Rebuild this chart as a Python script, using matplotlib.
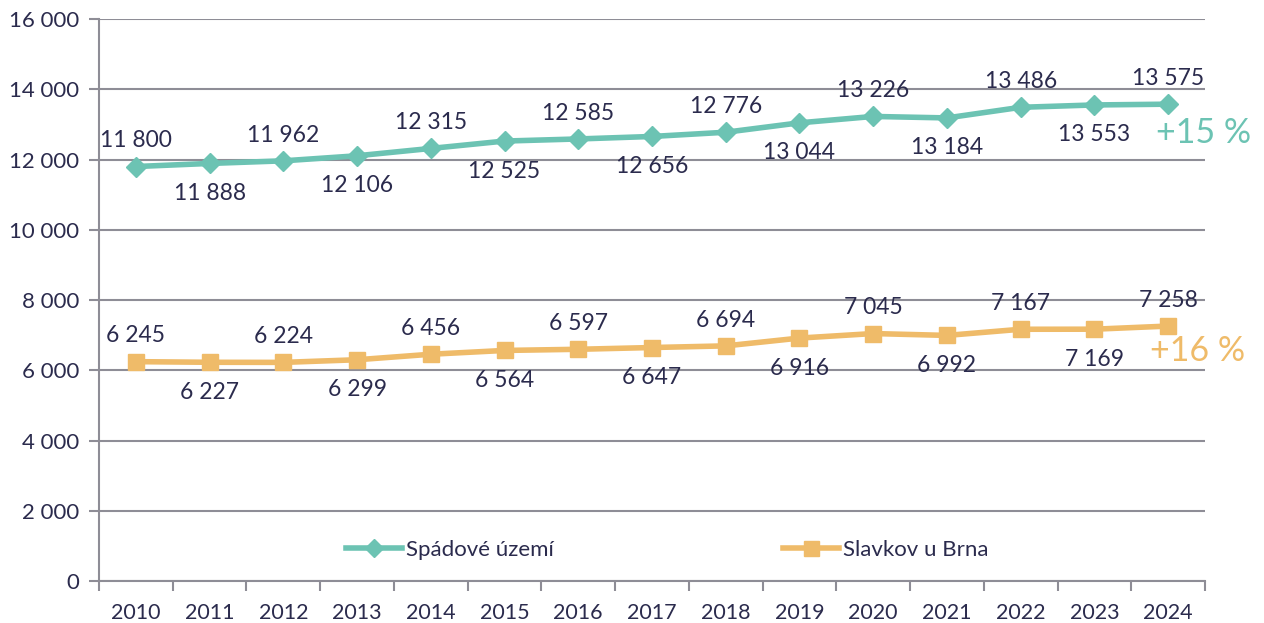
import matplotlib
matplotlib.use("Agg")
import matplotlib.pyplot as plt
import numpy as np

years = ["2010", "2011", "2012", "2013", "2014", "2015", "2016", "2017",
         "2018", "2019", "2020", "2021", "2022", "2023", "2024"]
spadove = [11800, 11888, 11962, 12106, 12315, 12525, 12585, 12656,
           12776, 13044, 13226, 13184, 13486, 13553, 13575]
slavkov = [6245, 6227, 6224, 6299, 6456, 6564, 6597, 6647,
           6694, 6916, 7045, 6992, 7167, 7169, 7258]
names = ["Spádové území", "Slavkov u Brna"]
changes = ["+15 %", "+16 %"]

plt.rcParams['font.family'] = ['Lato', 'DejaVu Sans']
txt = "#2b2b4d"
grid_c = "#8e8d96"
green = "#6cc3b3"
orange = "#efbb69"

def fmt(v):
    return f"{v:,}".replace(",", " ")

fig = plt.figure(figsize=(12.64, 6.23), dpi=100)
ax = fig.add_axes([0.0783, 0.0674, 0.875, 0.9021])

x = np.arange(len(years))
ax.plot(x, spadove, color=green, lw=4, marker="D", ms=10, label=names[0], zorder=3)
ax.plot(x, slavkov, color=orange, lw=4, marker="s", ms=12, label=names[1], zorder=3)

for i in x:
    up = (i % 2 == 0)
    off = 11 if up else -14
    va = "bottom" if up else "top"
    ax.annotate(fmt(spadove[i]), (i, spadove[i]), xytext=(0, off), textcoords="offset points",
                ha="center", va=va, fontsize=16.5, color=txt)
    ax.annotate(fmt(slavkov[i]), (i, slavkov[i]), xytext=(0, off), textcoords="offset points",
                ha="center", va=va, fontsize=16.5, color=txt)

ax.text(0.956, 12750 / 16000, changes[0], transform=ax.transAxes, color=green, fontsize=24.5,
        ha="left", va="center", clip_on=False)
ax.text(0.950, 6550 / 16000, changes[1], transform=ax.transAxes, color=orange, fontsize=24.5,
        ha="left", va="center", clip_on=False)

ax.set_xlim(-0.5, len(years) - 0.5)
ax.set_ylim(0, 16000)
ax.set_yticks(np.arange(0, 16001, 2000))
ax.set_yticklabels([fmt(v) for v in range(0, 16001, 2000)], fontsize=16, color=txt)
ax.set_xticks(x)
ax.set_xticklabels(years, fontsize=15.5, color=txt)
ax.set_xticks(np.arange(-0.5, len(years), 1), minor=True)
ax.tick_params(axis="x", which="major", length=0, pad=16)
ax.tick_params(axis="x", which="minor", length=7, color=grid_c, width=1.5)
ax.tick_params(axis="y", length=7, color=grid_c, width=1.5, pad=7)

ax.grid(axis="y", color=grid_c, lw=1.5)
ax.set_axisbelow(True)
for s in ["top", "right"]:
    ax.spines[s].set_visible(False)
for s in ["left", "bottom"]:
    ax.spines[s].set_color(grid_c)
    ax.spines[s].set_linewidth(1.5)

ax.legend(loc="center", bbox_to_anchor=(0.514, 0.055), ncol=2, frameon=False, fontsize=16,
          columnspacing=10.3, handlelength=2.5, handletextpad=0.2, labelcolor=txt, markerscale=0.9)

fig.savefig("out.png", dpi=100)
